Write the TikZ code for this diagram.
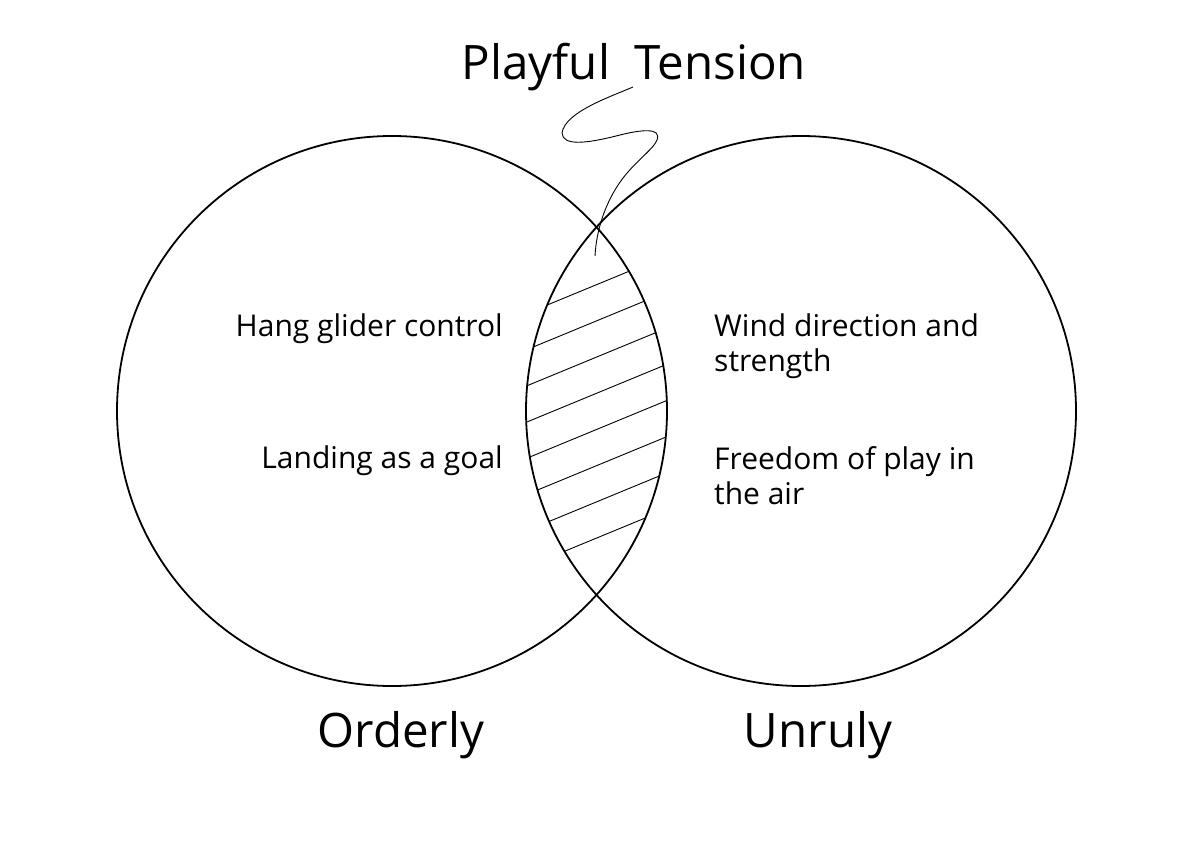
\documentclass[tikz,border=0pt]{standalone}
\usepackage{fontspec}
\setmainfont{Open Sans}
\usetikzlibrary{positioning}
\tikzset{
  ring/.style={line width=1.8pt},
  hatch/.style={line width=0.9pt},
  thread/.style={line width=0.9pt},
  item/.style={font=\fontsize{30}{35}\selectfont, inner sep=0pt, align=left},
  big/.style={font=\fontsize{47.5}{52}\selectfont, inner sep=0pt},
}

\begin{document}
\begin{tikzpicture}[x=1pt, y=-1pt]
  \useasboundingbox (0,0) rectangle (1191,842);
  \coordinate (cl) at (392,411);
  \coordinate (cr) at (801,411);

  % hatching of the overlap
  \begin{scope}
    \clip (cl) circle (275pt);
    \clip (cr) circle (275pt);
    \foreach \k in {0,...,7}
      \draw[hatch] (500,{284.5+36.2*\k+40}) -- (700,{284.5+36.2*\k-42.5});
  \end{scope}

  \draw[ring] (cl) circle (275pt);
  \draw[ring] (cr) circle (275pt);

  \node[big, anchor=base] (title) at (634,80) {Playful~~Tension};
  \node[big, anchor=base] (orderly) at (401,747) {Orderly};
  \node[big, anchor=base] (unruly) at (818,747) {Unruly};

  \node[item, anchor=base east] (hang) at (503,336) {Hang glider control};
  \node[item, anchor=base east] (land) at (503,468) {Landing as a goal};
  \node[item, anchor=base west] (wind) at (714,371) {Wind direction and\\strength};
  \node[item, anchor=base west] (free) at (714,504) {Freedom of play in\\the air};

  \coordinate (tail) at (633,87);
  \coordinate (tip) at (595,256);
  \draw[thread] (tail) .. controls (610,97) and (565,112) .. (562,133)
    .. controls (563,146) and (585,144) .. (620,135)
    .. controls (640,130) and (662,127) .. (657,140)
    .. controls (654,148) and (640,158) .. (628,172)
    .. controls (612,190) and (597,220) .. (tip);
\end{tikzpicture}
\end{document}
